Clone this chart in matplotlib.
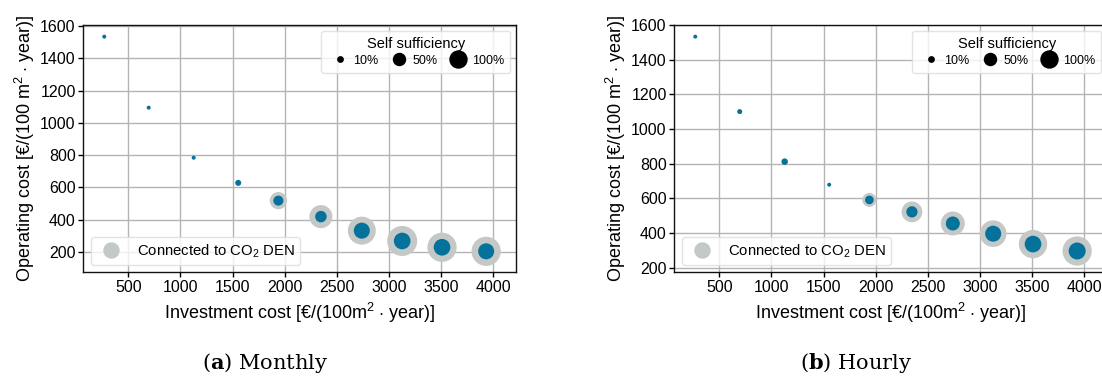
import numpy as np
import matplotlib.pyplot as plt
from matplotlib.lines import Line2D

plt.rcParams['font.family'] = ['Liberation Sans', 'DejaVu Sans']
plt.rcParams['mathtext.fontset'] = 'custom'
plt.rcParams['mathtext.rm'] = 'Liberation Sans'
plt.rcParams['mathtext.bf'] = 'DejaVu Serif:bold'

# investment cost [EUR/(100 m2 year)] of each design point
invest = [270, 696, 1127, 1554, 1939, 2347, 2739, 3126, 3508, 3931]

# monthly resolution
op_monthly = [1534, 1094, 784, 628, 518, 419, 332, 268, 229, 204]
ss_monthly = [5.5, 5.5, 5.5, 12.5, 35, 46, 89, 96, 96, 89]       # self sufficiency [%]
den_monthly = [0, 0, 0, 0, 33, 59, 87, 100, 95, 95]              # CO2 DEN share [%]

# hourly resolution
op_hourly = [1534, 1101, 812, 679, 591, 522, 455, 396, 336, 296]
ss_hourly = [5.5, 8.7, 14.6, 5.5, 26, 44, 68, 89, 96, 100]
den_hourly = [0, 0, 0, 0, 22, 48, 64, 79, 89, 95]

legend_levels = [10, 50, 100]
legend_labels = ['10%', '50%', '100%']

blue = '#05729c'
grey = '#c4c8c7'
dpi = 100


def ss_area(v):
    # marker area in pt^2, 17 px diameter at 100 %
    d = 17 * np.sqrt(np.asarray(v) / 100.0) * 72 / dpi
    return d ** 2


def den_area(v):
    d = 30 * np.sqrt(np.asarray(v) / 100.0) * 72 / dpi
    return d ** 2


W, H = 1102, 378
fig = plt.figure(figsize=(W / dpi, H / dpi), dpi=dpi)
ax1 = fig.add_axes([83.3 / W, 1 - 272.3 / H, 433 / W, 247.6 / H])
ax2 = fig.add_axes([674.3 / W, 1 - 272.3 / H, 433 / W, 247.6 / H])

panels = [(ax1, op_monthly, ss_monthly, den_monthly, (74, 1608)),
          (ax2, op_hourly, ss_hourly, den_hourly, (173, 1603))]

for ax, op, ss, den, yl in panels:
    ax.set_axisbelow(True)
    ax.grid(True, color='#b4b4b4', linewidth=1.0)
    ax.scatter(invest, op, s=den_area(den), color=grey, linewidths=0, zorder=2)
    ax.scatter(invest, op, s=ss_area(ss), color=blue, linewidths=0, zorder=3)
    ax.set_xlim(69, 4220)
    ax.set_ylim(*yl)
    ax.set_xticks([500, 1000, 1500, 2000, 2500, 3000, 3500, 4000])
    ax.set_yticks([200, 400, 600, 800, 1000, 1200, 1400, 1600])
    ax.tick_params(labelsize=11.5, length=3.5, width=1, pad=2)
    for sp in ax.spines.values():
        sp.set_linewidth(1.0)
        sp.set_color('#111111')
    ax.set_xlabel(r'Investment cost [€/(100m$^{2}$ $\cdot$ year)]', fontsize=13, labelpad=4)
    ax.set_ylabel(r'Operating cost [€/(100 m$^{2}$ $\cdot$ year)]', fontsize=13, labelpad=2)

    size_handles = [Line2D([], [], ls='none', marker='o', color='black',
                           markersize=np.sqrt(ss_area(v))) for v in legend_levels]
    leg1 = ax.legend(size_handles, legend_labels, title='Self sufficiency', ncol=3,
                     loc='upper right', fontsize=9, title_fontsize=10.5,
                     handlelength=2, handletextpad=0.07, columnspacing=0.66,
                     borderpad=0.48, borderaxespad=0.5, labelspacing=0.3,
                     framealpha=0.8, edgecolor='#dddddd')
    ax.add_artist(leg1)
    den_handle = Line2D([], [], ls='none', marker='o', color=grey, markersize=10.8)
    ax.legend([den_handle], [r'Connected to CO$_2$ DEN'], loc='lower left',
              fontsize=10.7, handlelength=2, handletextpad=0.75, borderpad=0.35,
              borderaxespad=0.5, framealpha=0.8, edgecolor='#dddddd')

fig.text(265 / W, 1 - 363 / H, r'($\mathbf{a}$) Monthly', ha='center', va='center',
         fontsize=15, family='DejaVu Serif')
fig.text(856 / W, 1 - 363 / H, r'($\mathbf{b}$) Hourly', ha='center', va='center',
         fontsize=15, family='DejaVu Serif')

fig.savefig('out.png', dpi=dpi)
